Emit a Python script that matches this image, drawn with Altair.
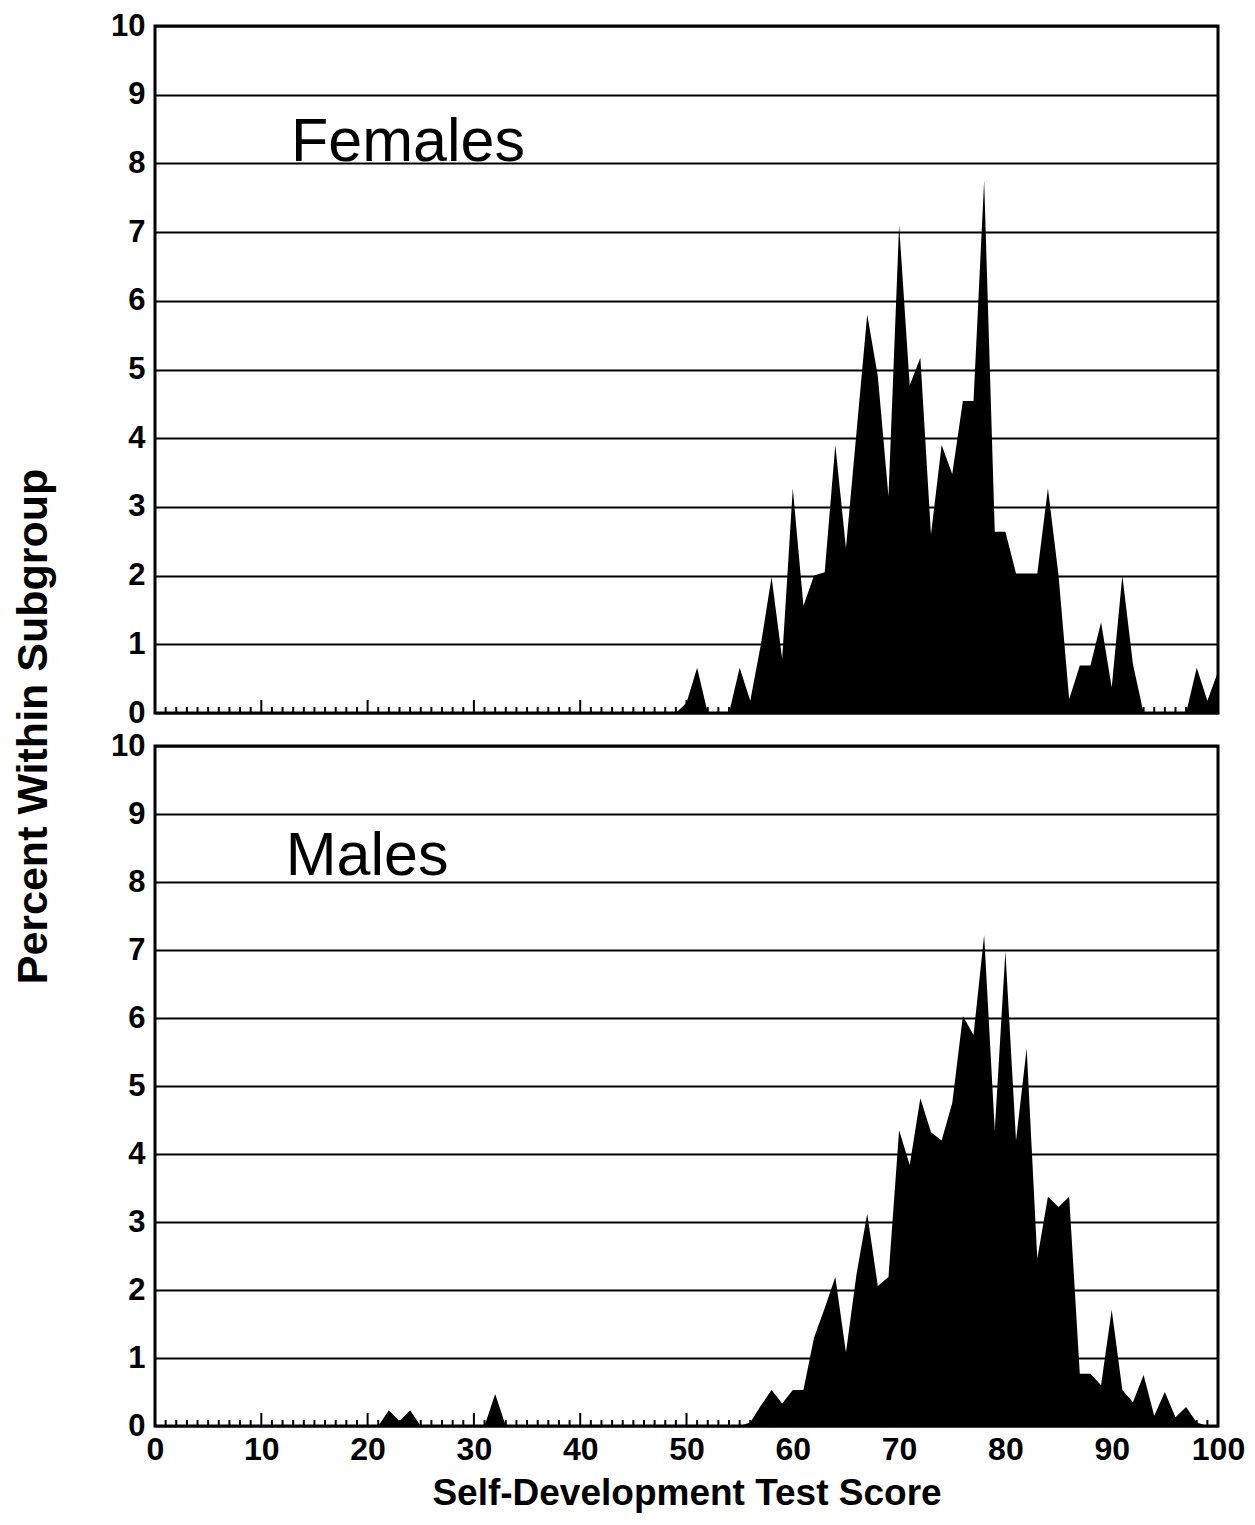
import altair as alt
import pandas as pd

scores = [
    0, 1, 2, 3, 4, 5, 6, 7, 8, 9,
    10, 11, 12, 13, 14, 15, 16, 17, 18, 19,
    20, 21, 22, 23, 24, 25, 26, 27, 28, 29,
    30, 31, 32, 33, 34, 35, 36, 37, 38, 39,
    40, 41, 42, 43, 44, 45, 46, 47, 48, 49,
    50, 51, 52, 53, 54, 55, 56, 57, 58, 59,
    60, 61, 62, 63, 64, 65, 66, 67, 68, 69,
    70, 71, 72, 73, 74, 75, 76, 77, 78, 79,
    80, 81, 82, 83, 84, 85, 86, 87, 88, 89,
    90, 91, 92, 93, 94, 95, 96, 97, 98, 99,
    100,
]

female_pct = [
    0, 0, 0, 0, 0, 0, 0, 0, 0, 0,
    0, 0, 0, 0, 0, 0, 0, 0, 0, 0,
    0, 0, 0, 0, 0, 0, 0, 0, 0, 0,
    0, 0, 0, 0, 0, 0, 0, 0, 0, 0,
    0, 0, 0, 0, 0, 0, 0, 0, 0, 0,
    0.15, 0.66, 0, 0, 0, 0.66, 0.18, 1.0, 1.98, 0.79,
    3.27, 1.56, 2.0, 2.05, 3.9, 2.4, 4.1, 5.8, 4.9, 3.15,
    7.1, 4.77, 5.17, 2.6, 3.9, 3.48, 4.54, 4.54, 7.75, 2.64,
    2.64, 2.03, 2.03, 2.03, 3.27, 2.0, 0.2, 0.69, 0.69, 1.32,
    0.37, 2.0, 0.71, 0, 0, 0, 0, 0, 0.66, 0.18,
    0.6,
]

male_pct = [
    0, 0, 0, 0, 0, 0, 0, 0, 0, 0,
    0, 0, 0, 0, 0, 0, 0, 0, 0, 0,
    0, 0, 0.23, 0.07, 0.23, 0, 0, 0, 0, 0,
    0, 0, 0.47, 0, 0, 0, 0, 0, 0, 0,
    0, 0, 0, 0, 0, 0, 0, 0, 0, 0,
    0, 0, 0, 0, 0, 0, 0.05, 0.3, 0.53, 0.33,
    0.53, 0.53, 1.3, 1.73, 2.19, 1.08, 2.24, 3.12, 2.06, 2.19,
    4.35, 3.84, 4.82, 4.32, 4.2, 4.75, 6.03, 5.75, 7.22, 4.35,
    6.98, 4.2, 5.55, 2.46, 3.37, 3.22, 3.37, 0.77, 0.77, 0.6,
    1.71, 0.53, 0.35, 0.75, 0.15, 0.5, 0.13, 0.28, 0.05, 0,
    0,
]

y_ticks = [0, 1, 2, 3, 4, 5, 6, 7, 8, 9, 10]
x_ticks = [0, 10, 20, 30, 40, 50, 60, 70, 80, 90, 100]
minor_ticks = [s for s in scores if s not in x_ticks]

panel_labels = ["Females", "Males"]
label_x = [12.8, 12.3]
label_y = [8.03, 8.1]

FONT = "Liberation Sans"
W = 1063


def panel(values, idx, height, bottom):
    df = pd.DataFrame({"score": scores, "pct": values})
    xscale = alt.Scale(domain=[0, 100], nice=False, zero=False)
    yscale = alt.Scale(domain=[0, 10], nice=False)

    ycommon = dict(
        values=y_ticks, format="d", grid=True, gridColor="black", gridWidth=2,
        gridOpacity=1, ticks=False, domain=False,
        labelFont=FONT, labelFontSize=31, labelFontWeight="bold",
        labelColor="black", labelPadding=10, labelOverlap=False,
        labelFlush=False,
    )

    if bottom:
        xaxis = alt.Axis(
            values=x_ticks, format="d", grid=False, ticks=False, domain=False,
            labelFont=FONT, labelFontSize=32, labelFontWeight="bold",
            labelColor="black", labelPadding=8, labelFlush=False,
            labelOverlap=False,
            title="Self-Development Test Score", titleFont=FONT,
            titleFontSize=37, titleFontWeight="bold", titleColor="black",
            titlePadding=10,
        )
        yaxis = alt.Axis(
            title="Percent Within Subgroup", titleFont=FONT,
            titleFontSize=43, titleFontWeight="bold", titleColor="black",
            titleAngle=270, titleX=-100, titleY=-20, titleAlign="center",
            titleBaseline="bottom",
            **ycommon,
        )
    else:
        xaxis = None
        yaxis = alt.Axis(title=None, **ycommon)

    area = alt.Chart(df).mark_area(color="black", interpolate="linear", opacity=1).encode(
        x=alt.X("score:Q", scale=xscale, axis=xaxis),
        y=alt.Y("pct:Q", scale=yscale, axis=yaxis),
    )

    minor = alt.Chart(pd.DataFrame({"t": minor_ticks})).mark_rule(
        color="black", strokeWidth=2
    ).encode(
        x=alt.X("t:Q", scale=xscale),
        y=alt.value(height),
        y2=alt.value(height - 6),
    )
    major = alt.Chart(pd.DataFrame({"t": x_ticks})).mark_rule(
        color="black", strokeWidth=2
    ).encode(
        x=alt.X("t:Q", scale=xscale),
        y=alt.value(height),
        y2=alt.value(height - 13),
    )

    lab = alt.Chart(pd.DataFrame({
        "x": [label_x[idx]], "y": [label_y[idx]], "text": [panel_labels[idx]]
    })).mark_text(
        align="left", baseline="alphabetic", font=FONT, fontSize=61, color="black"
    ).encode(
        x=alt.X("x:Q", scale=xscale),
        y=alt.Y("y:Q", scale=yscale),
        text="text:N",
    )

    return alt.layer(area, minor, major, lab).properties(width=W, height=height)


top = panel(female_pct, 0, 687, False)
bottom = panel(male_pct, 1, 680, True)

chart = alt.vconcat(top, bottom, spacing=33, bounds="flush").configure_view(
    stroke="black", strokeWidth=3
).properties(
    padding={"left": 2, "top": 0, "right": 0, "bottom": 2},
    background="white",
)

chart.save("out.html", embed_options={"renderer": "svg", "actions": False})
